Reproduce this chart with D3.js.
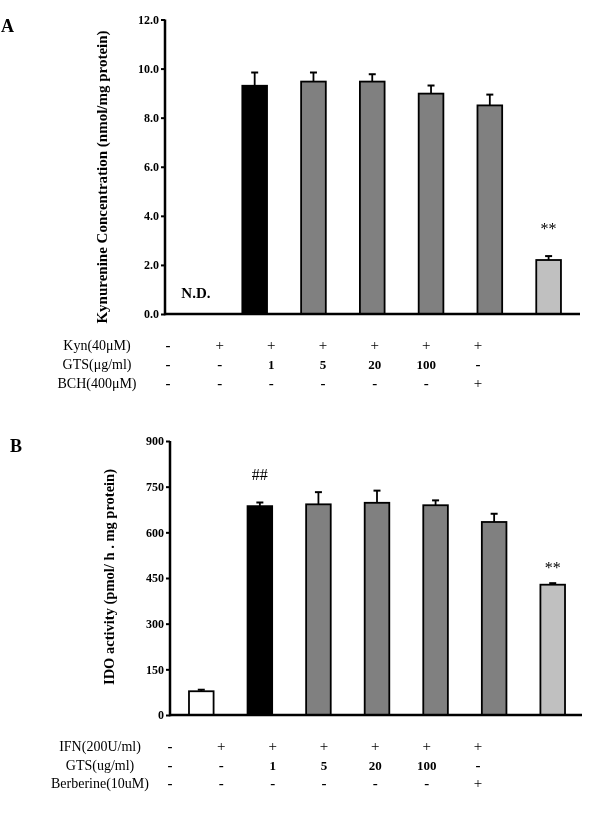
<!DOCTYPE html>
<html><head><meta charset="utf-8">
<script src="https://cdn.jsdelivr.net/npm/d3@7"></script>
<style>body{margin:0;background:#fff}svg{display:block;will-change:transform}svg text{font-family:"Times New Roman",Times,"Liberation Serif",serif !important;fill:#000}</style>
</head><body><svg id="c" width="600" height="829"></svg>
<script>
const categories = ["Control","Kyn","GTS1","GTS5","GTS20","GTS100","Inhibitor"];
const fillColors = ["#ffffff","#000000","#808080","#808080","#808080","#808080","#c0c0c0"];

// Panel A
const valuesA = [null, 9.3, 9.47, 9.47, 8.98, 8.5, 2.2];
const errorsA = [null, 0.54, 0.37, 0.3, 0.33, 0.44, 0.16];
const ticksA = [0, 2, 4, 6, 8, 10, 12];
const rowLabelsA = ["Kyn(40\u03bcM)", "GTS(\u03bcg/ml)", "BCH(400\u03bcM)"];
const rowsA = [["-","+","+","+","+","+","+"],["-","-","1","5","20","100","-"],["-","-","-","-","-","-","+"]];

// Panel B
const valuesB = [78, 686, 692, 697, 689, 634, 428];
const errorsB = [5, 12, 40, 40, 16, 27, 5];
const ticksB = [0, 150, 300, 450, 600, 750, 900];
const rowLabelsB = ["IFN(200U/ml)", "GTS(ug/ml)", "Berberine(10uM)"];
const rowsB = [["-","+","+","+","+","+","+"],["-","-","1","5","20","100","-"],["-","-","-","-","-","-","+"]];

const svg = d3.select("#c");

function panel(o){
  const g = svg.append("g");
  const x = d3.scaleBand().domain(categories).range(o.xr).paddingInner(0.58).paddingOuter(0.29);
  const y = d3.scaleLinear().domain([0, o.max]).range(o.yr);
  const ax = g.append("g").attr("transform",`translate(${o.axX},0)`)
    .call(d3.axisLeft(y).tickValues(o.ticks).tickSize(4).tickSizeOuter(0).tickFormat(o.fmt));
  ax.attr("font-family",null);
  ax.select(".domain").remove();
  ax.selectAll(".tick line").attr("stroke","#000").attr("stroke-width",2);
  ax.selectAll(".tick text").attr("font-size",12).attr("font-weight","bold").attr("x",-6);
  const data = categories.map((c,i)=>({c, v:o.values[i], e:o.errors[i], f:fillColors[i]})).filter(d=>d.v!=null);
  const bw = x.bandwidth();
  g.selectAll("rect.bar").data(data).join("rect").attr("class","bar")
    .attr("x",d=>x(d.c)).attr("width",bw)
    .attr("y",d=>y(d.v)).attr("height",d=>y(0)-y(d.v))
    .attr("fill",d=>d.f).attr("stroke","#000").attr("stroke-width",1.8);
  g.selectAll("line.eb").data(data).join("line").attr("class","eb")
    .attr("x1",d=>x(d.c)+bw/2).attr("x2",d=>x(d.c)+bw/2)
    .attr("y1",d=>y(d.v)).attr("y2",d=>y(d.v+d.e)).attr("stroke","#000").attr("stroke-width",1.8);
  g.selectAll("line.cap").data(data).join("line").attr("class","cap")
    .attr("x1",d=>x(d.c)+bw/2-3.5).attr("x2",d=>x(d.c)+bw/2+3.5)
    .attr("y1",d=>y(d.v+d.e)).attr("y2",d=>y(d.v+d.e)).attr("stroke","#000").attr("stroke-width",2);
  g.append("line").attr("x1",o.axX).attr("x2",o.axX).attr("y1",y(o.max)).attr("y2",y(0)+1.25).attr("stroke","#000").attr("stroke-width",2.5);
  g.append("line").attr("x1",o.axX).attr("x2",o.axEnd).attr("y1",y(0)).attr("y2",y(0)).attr("stroke","#000").attr("stroke-width",2.5);
  g.append("text").attr("transform",`translate(${o.labX},${o.labY}) rotate(-90)`)
    .attr("text-anchor","middle").attr("font-size",o.labSize).attr("font-weight","bold").text(o.label);
  g.append("text").attr("x",o.letX).attr("y",o.letY).attr("font-size",18).attr("font-weight","bold").text(o.letter);
  o.notes.forEach(n=>{
    const i = categories.indexOf(n.c);
    const base = o.values[i]==null ? 0 : o.values[i] + o.errors[i];
    g.append("text").attr("x",x(n.c)+bw/2).attr("y",y(base)-n.dy).attr("text-anchor","middle")
      .attr("font-size",n.size).attr("font-weight",n.bold?"bold":"normal").text(n.t);
  });
  const tx = d3.scalePoint().domain(categories).range(o.tableX);
  o.rows.forEach((r,ri)=>{
    g.append("text").attr("x",o.rowLabX).attr("y",o.rowY[ri]).attr("text-anchor","middle").attr("font-size",14).text(o.rowLabels[ri]);
    r.forEach((s,ci)=>{
      const isNum = /\d/.test(s);
      g.append("text").attr("x",tx(categories[ci])).attr("y",o.rowY[ri]).attr("text-anchor","middle")
        .attr("font-size",isNum?13:15).attr("font-weight",s==="+"?"normal":"bold").text(s);
    });
  });
}

panel({
  xr:[166.5,578], yr:[314,19.5], max:12, axX:165, axEnd:580, ticks:ticksA, fmt:d3.format(".1f"),
  values:valuesA, errors:errorsA, label:"Kynurenine Concentration (nmol/mg protein)", labX:107, labY:177, labSize:15,
  letter:"A", letX:1, letY:32,
  notes:[{c:"Control",t:"N.D.",dy:16,size:15,bold:true},{c:"Inhibitor",t:"**",dy:22,size:16}],
  rows:rowsA, rowLabels:rowLabelsA, rowLabX:97, rowY:[350,369,388], tableX:[168,478]
});
panel({
  xr:[172,582], yr:[715,441], max:900, axX:170, axEnd:582, ticks:ticksB, fmt:d3.format("d"),
  values:valuesB, errors:errorsB, label:"IDO activity (pmol/ h . mg protein)", labX:114, labY:577, labSize:14.5,
  letter:"B", letX:10, letY:452,
  notes:[{c:"Kyn",t:"##",dy:22,size:16},{c:"Inhibitor",t:"**",dy:10,size:16}],
  rows:rowsB, rowLabels:rowLabelsB, rowLabX:100, rowY:[751,770,788], tableX:[170,478]
});
</script></body></html>
